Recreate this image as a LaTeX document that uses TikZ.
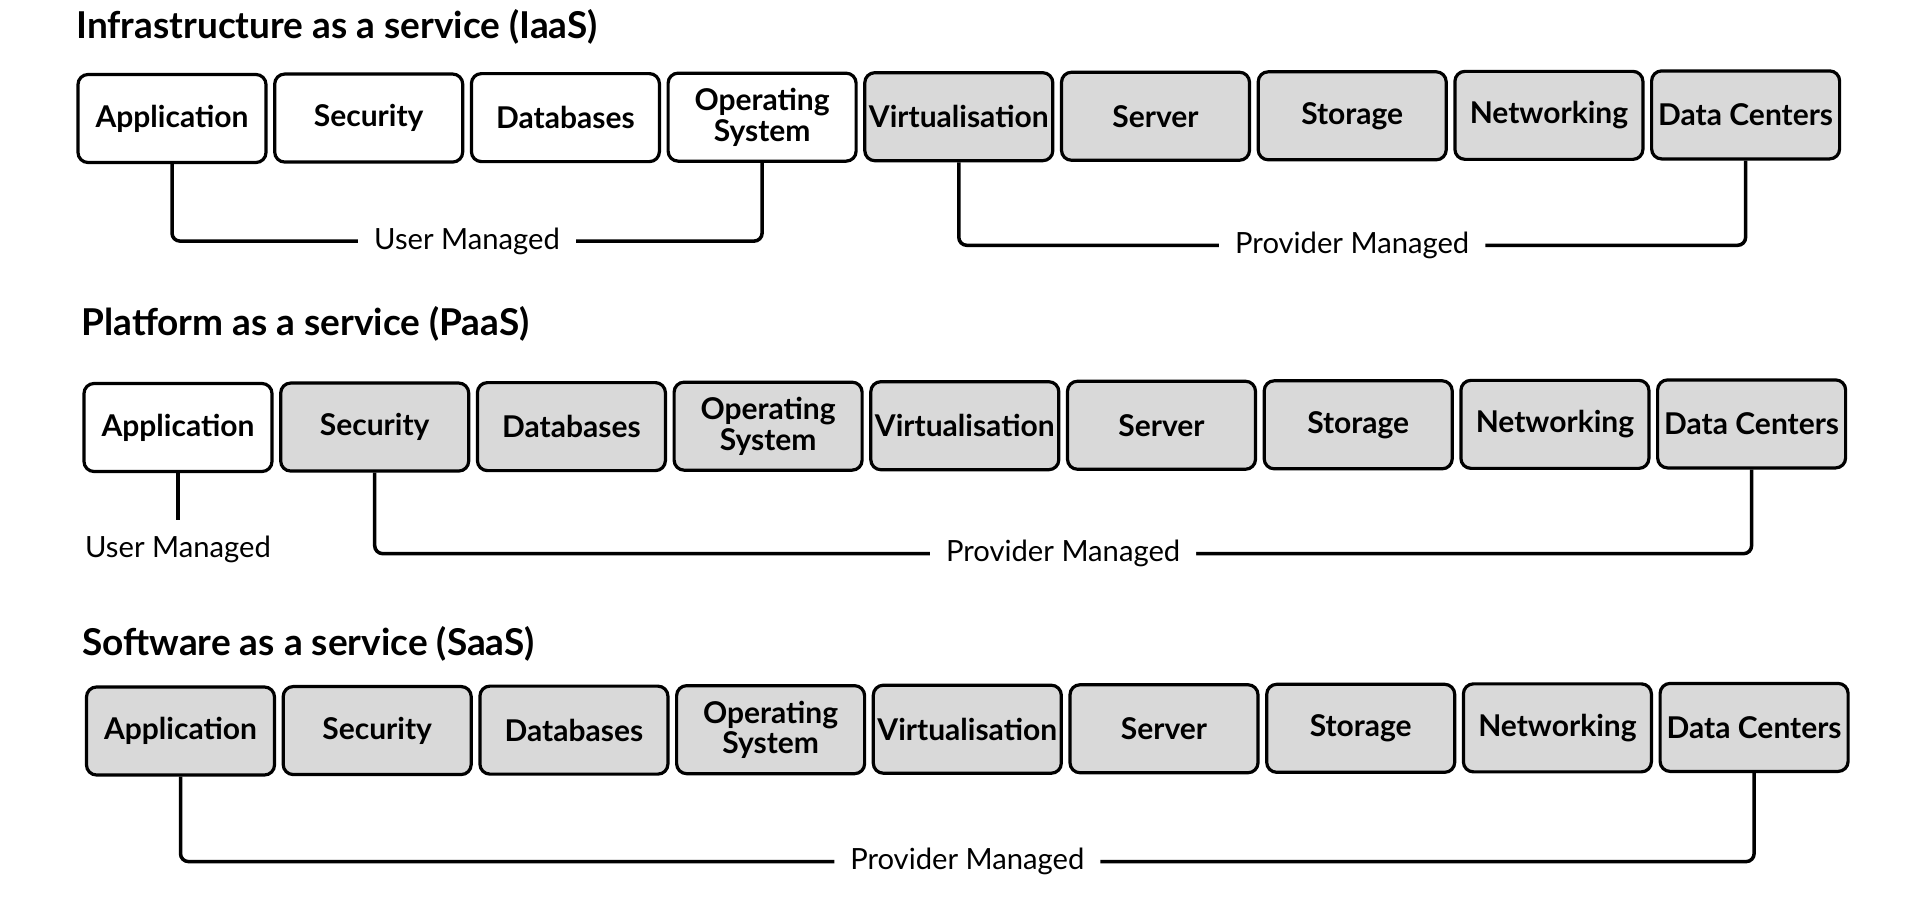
\documentclass[tikz,border=0pt]{standalone}
\usepackage{fontspec}
\setmainfont{Lato}
\usetikzlibrary{positioning}
\definecolor{boxgray}{HTML}{D9D9D9}
\tikzset{
  layer/.style={draw,line width=1.6pt,rounded corners=5pt,
    minimum width=94pt,minimum height=44pt,inner sep=0pt,align=center,
    font=\fontsize{15}{15.3}\selectfont\bfseries},
  heading/.style={anchor=west,inner sep=0pt,
    font=\fontsize{18.5}{22}\selectfont\bfseries},
  bracket/.style={line width=1.75pt,rounded corners=4pt},
  lbl/.style={fill=white,inner xsep=8pt,inner ysep=2pt,
    font=\fontsize{14.6}{17}\selectfont}
}
\begin{document}
\begin{tikzpicture}[x=0.5pt,y=-0.5pt]
      \useasboundingbox (0,0) rectangle (1920,905);

      % section headings
      \node [heading] (headI) at (76,27) {Infrastructure as a service (IaaS)};
      \node [heading] (headP) at (81,324) {Platform as a service (PaaS)};
      \node [heading] (headS) at (82,644) {Software as a service (SaaS)};

      % stack of layers, white = user managed
      \foreach\r/\x/\y/\u in {i/76/118.5/4,p/82/427.5/1,s/84.5/731/0}
      \foreach\t [count=\k from 0] in {Application,Security,Databases,
        {Operating\\System},Virtualisation,Server,Storage,Networking,
        Data Centers}
      {
        \ifnum\k<\u \def\shade{white}\else\def\shade{boxgray}\fi
        \node [layer,fill=\shade] (\r\k) at (\x+96+\k*196.7,\y-\k*0.45) {\t};
      }

      % IaaS
      \draw [bracket] (i0.south) -- ++(0,77)
        -| node [pos=0.25,lbl] {User Managed} (i3.south);
      \draw [bracket] (i4.south) -- ++(0,83)
        -| node [pos=0.25,lbl] {Provider Managed} (i8.south);

      % PaaS
      \draw [bracket] (p0.south) -- ++(0,47)
        node [below=5pt,lbl] {User Managed};
      \draw [bracket] (p1.south) -- ++(0,81)
        -| node [pos=0.25,lbl] {Provider Managed} (p8.south);

      % SaaS
      \draw [bracket] (s0.south) -- ++(0,85)
        -| node [pos=0.25,lbl] {Provider Managed} (s8.south);

    \end{tikzpicture}
\end{document}
